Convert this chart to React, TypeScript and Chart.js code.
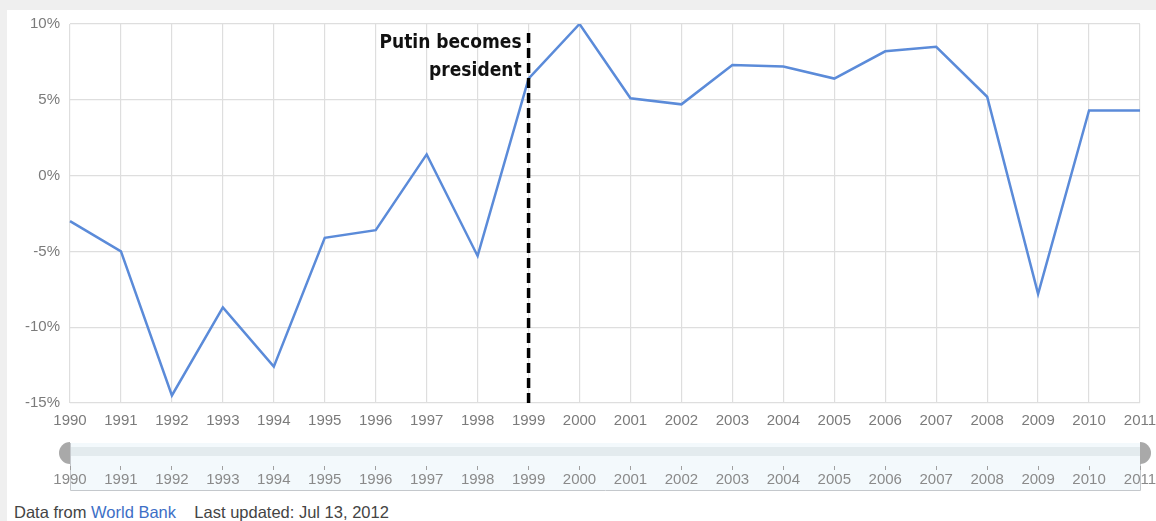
import React, { useEffect, useRef } from "react";
import { Chart, registerables } from "chart.js";
Chart.register(...registerables);

const years = [
  "1990", "1991", "1992", "1993", "1994", "1995", "1996", "1997", "1998", "1999", "2000",
  "2001", "2002", "2003", "2004", "2005", "2006", "2007", "2008", "2009", "2010", "2011",
];
const gdpGrowth = [
  -3.0, -5.0, -14.5, -8.7, -12.6, -4.1, -3.6, 1.4, -5.3, 6.4, 10.0,
  5.1, 4.7, 7.3, 7.2, 6.4, 8.2, 8.5, 5.2, -7.8, 4.3, 4.3,
];
const yTickValues = [-15, -10, -5, 0, 5, 10];
const annotationYear = "1999";
const annotationLines = ["Putin becomes", "president"];

const LABEL_FONT = '"Liberation Sans", Arial, sans-serif';

const annotationPlugin = {
  id: "putinLine",
  afterDatasetsDraw(chart: any) {
    const { ctx, chartArea, scales } = chart;
    const x = scales.x.getPixelForValue(years.indexOf(annotationYear));
    ctx.save();
    ctx.strokeStyle = "#000";
    ctx.lineWidth = 3.5;
    ctx.setLineDash([10, 5]);
    ctx.beginPath();
    ctx.moveTo(x, chartArea.top + 9);
    ctx.lineTo(x, chartArea.bottom);
    ctx.stroke();
    ctx.setLineDash([]);
    ctx.fillStyle = "#111";
    ctx.textAlign = "right";
    ctx.textBaseline = "middle";
    ctx.font = 'bold 19px "DejaVu Sans Condensed", "Liberation Sans Narrow", "Liberation Sans", sans-serif';
    annotationLines.forEach((t, i) => {
      ctx.fillText(t, x - 7, chartArea.top + 19 + i * 28);
    });
    ctx.restore();
  },
};

const sliderPlugin = {
  id: "sliderBand",
  beforeDraw(chart: any) {
    const { ctx, chartArea, scales } = chart;
    const bottom = scales.x.bottom;
    ctx.save();
    ctx.fillStyle = "#f3f9fc";
    ctx.fillRect(chartArea.left, chartArea.top, chartArea.right - chartArea.left, bottom - chartArea.top);
    ctx.fillStyle = "#e3ebee";
    ctx.fillRect(chartArea.left, chartArea.top + 4, chartArea.right - chartArea.left, 9);
    ctx.strokeStyle = "#c4c8cc";
    ctx.lineWidth = 1;
    ctx.beginPath();
    ctx.moveTo(chartArea.left + 0.5, chartArea.top);
    ctx.lineTo(chartArea.left + 0.5, bottom + 0.5);
    ctx.lineTo(chartArea.right + 0.5, bottom + 0.5);
    ctx.lineTo(chartArea.right + 0.5, chartArea.top);
    ctx.stroke();
    ctx.restore();
  },
  afterDraw(chart: any) {
    const { ctx, chartArea } = chart;
    const cy = chartArea.top + 10;
    ctx.save();
    ctx.fillStyle = "#a9a9a9";
    ctx.beginPath();
    ctx.arc(chartArea.left, cy, 11, Math.PI / 2, (3 * Math.PI) / 2);
    ctx.closePath();
    ctx.fill();
    ctx.beginPath();
    ctx.arc(chartArea.right, cy, 11, -Math.PI / 2, Math.PI / 2);
    ctx.closePath();
    ctx.fill();
    ctx.restore();
  },
};

function MainChart() {
  const ref = useRef<HTMLCanvasElement>(null);
  useEffect(() => {
    const chart = new Chart(ref.current!, {
      type: "line",
      data: {
        labels: years,
        datasets: [
          {
            data: gdpGrowth,
            borderColor: "#5b8bd9",
            borderWidth: 2.5,
            pointRadius: 0,
            tension: 0,
            fill: false,
          },
        ],
      },
      options: {
        responsive: false,
        animation: false,
        layout: { padding: { left: 0, right: 16, top: 24, bottom: 0 } },
        plugins: { legend: { display: false }, tooltip: { enabled: false } },
        scales: {
          x: {
            type: "category",
            offset: false,
            grid: { color: "#dedede", lineWidth: 1.2, drawTicks: false },
            border: { display: false },
            ticks: {
              color: "#7b7b7b",
              font: { family: LABEL_FONT, size: 15 },
              padding: 9,
              maxRotation: 0,
              autoSkip: false,
            },
            afterFit: (s: any) => {
              s.height = 33;
              s.paddingLeft = 0;
              s.paddingRight = 0;
            },
          },
          y: {
            min: -15,
            max: 10,
            afterBuildTicks: (s: any) => {
              s.ticks = yTickValues.map((v) => ({ value: v }));
            },
            grid: { color: "#dedede", lineWidth: 1.2, drawTicks: false },
            border: { display: false },
            ticks: {
              color: "#7b7b7b",
              font: { family: LABEL_FONT, size: 15 },
              padding: 10,
              callback: (v: any) => `${v}%`,
            },
            afterFit: (s: any) => {
              s.width = 70;
              s.paddingTop = 0;
              s.paddingBottom = 0;
            },
          },
        },
      },
      plugins: [annotationPlugin],
    } as any);
    return () => chart.destroy();
  }, []);
  return (
    <canvas
      ref={ref}
      width={1156}
      height={436}
      style={{ position: "absolute", left: 0, top: 0, width: 1156, height: 436 }}
    />
  );
}

function SliderChart() {
  const ref = useRef<HTMLCanvasElement>(null);
  useEffect(() => {
    const chart = new Chart(ref.current!, {
      type: "line",
      data: { labels: years, datasets: [{ data: [], pointRadius: 0 }] },
      options: {
        responsive: false,
        animation: false,
        layout: { padding: { left: 70, right: 16, top: 7, bottom: 6 } },
        plugins: { legend: { display: false }, tooltip: { enabled: false } },
        scales: {
          x: {
            type: "category",
            offset: false,
            grid: { drawOnChartArea: false, drawTicks: true, tickLength: 4, color: "#a0a0a0" },
            border: { display: false },
            ticks: {
              color: "#8a8a8a",
              font: { family: LABEL_FONT, size: 15 },
              padding: 1,
              maxRotation: 0,
              autoSkip: false,
            },
            afterFit: (s: any) => {
              s.height = 24;
              s.paddingLeft = 0;
              s.paddingRight = 0;
            },
          },
          y: { display: false, min: 0, max: 1 },
        },
      },
      plugins: [sliderPlugin],
    } as any);
    return () => chart.destroy();
  }, []);
  return (
    <canvas
      ref={ref}
      width={1156}
      height={60}
      style={{ position: "absolute", left: 0, top: 436, width: 1156, height: 60 }}
    />
  );
}

export default function App() {
  return (
    <div
      style={{
        position: "absolute",
        left: 0,
        top: 0,
        width: 1156,
        height: 521,
        background: "#efefef",
        overflow: "hidden",
      }}
    >
      <div
        style={{
          position: "absolute",
          left: 7,
          top: 10,
          width: 1149,
          height: 511,
          background: "#ffffff",
        }}
      />
      <MainChart />
      <SliderChart />
      <div
        style={{
          position: "absolute",
          left: 14,
          top: 503,
          fontFamily: LABEL_FONT,
          fontSize: 16.5,
          color: "#444",
          whiteSpace: "pre",
          lineHeight: "19px",
        }}
      >
        Data from <span style={{ color: "#3d6fc6" }}>World Bank</span>
        {"    "}Last updated: Jul 13, 2012
      </div>
    </div>
  );
}
